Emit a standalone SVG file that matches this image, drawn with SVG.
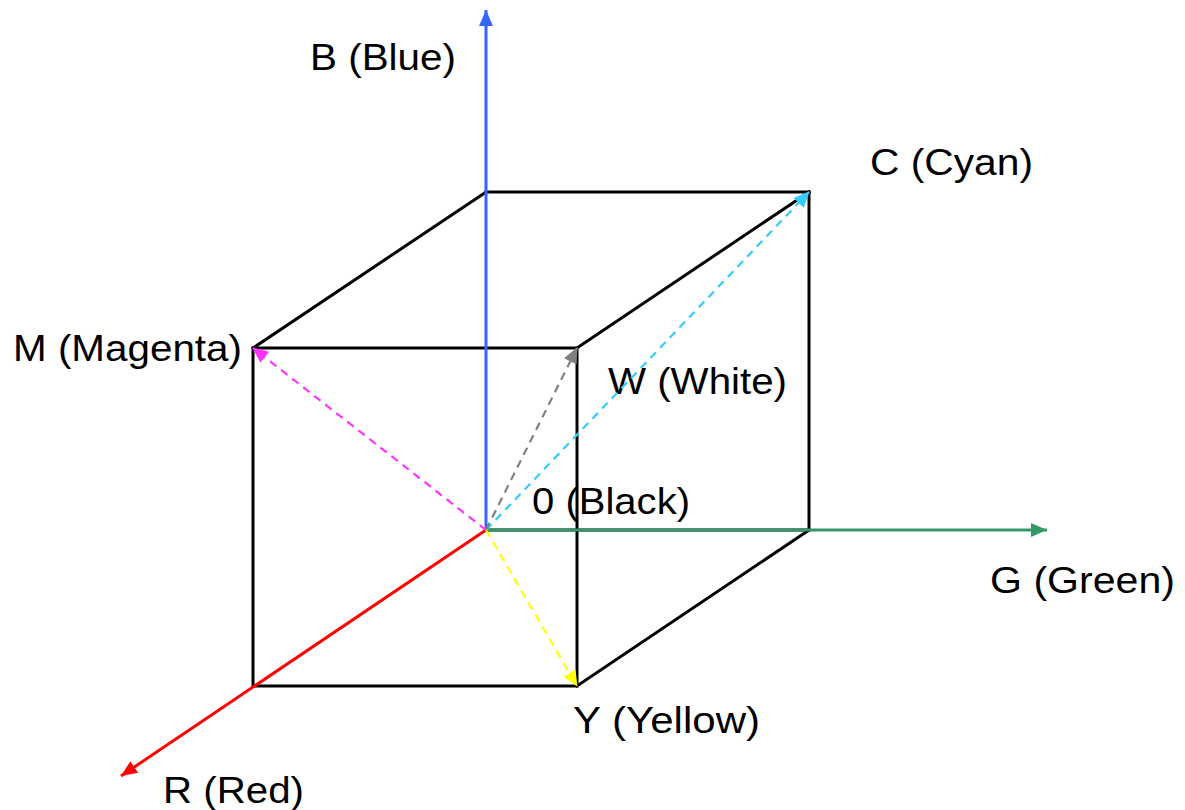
<svg xmlns="http://www.w3.org/2000/svg" width="1185" height="810" viewBox="0 0 1185 810">
<style>
  .lbl { font-family: "Liberation Sans", Arial, sans-serif; font-size: 37px; fill: #000; }
  .edge { stroke: #000; stroke-width: 3; fill: none; stroke-linecap: square; }
  .axis { stroke-width: 3; fill: none; }
  .dash { stroke-width: 2.2; fill: none; stroke-dasharray: 8 6; }
</style>
<defs>
  <marker id="mBlue" markerUnits="userSpaceOnUse" markerWidth="16" markerHeight="16" refX="16" refY="8" orient="auto"><path d="M0,1 L16,8 L0,15 z" fill="#3366FF"/></marker>
  <marker id="mGreen" markerUnits="userSpaceOnUse" markerWidth="16" markerHeight="16" refX="16" refY="8" orient="auto"><path d="M0,1 L16,8 L0,15 z" fill="#339966"/></marker>
  <marker id="mRed" markerUnits="userSpaceOnUse" markerWidth="16" markerHeight="16" refX="16" refY="8" orient="auto"><path d="M0,1 L16,8 L0,15 z" fill="#FF0000"/></marker>
  <marker id="mMag" markerUnits="userSpaceOnUse" markerWidth="16" markerHeight="16" refX="15" refY="8" orient="auto"><path d="M0,1 L16,8 L0,15 z" fill="#FF33FF"/></marker>
  <marker id="mCyan" markerUnits="userSpaceOnUse" markerWidth="16" markerHeight="16" refX="15" refY="8" orient="auto"><path d="M0,1 L16,8 L0,15 z" fill="#33CCFF"/></marker>
  <marker id="mGray" markerUnits="userSpaceOnUse" markerWidth="16" markerHeight="16" refX="15" refY="8" orient="auto"><path d="M0,1 L16,8 L0,15 z" fill="#808080"/></marker>
  <marker id="mYel" markerUnits="userSpaceOnUse" markerWidth="16" markerHeight="16" refX="15" refY="8" orient="auto"><path d="M0,1 L16,8 L0,15 z" fill="#FFFF00"/></marker>
</defs>
<rect width="1185" height="810" fill="#fff"/>

<g id="node-B"><text class="lbl" x="310" y="70" textLength="146" lengthAdjust="spacingAndGlyphs">B (Blue)</text></g>
<g id="node-C"><text class="lbl" x="870" y="175" textLength="163" lengthAdjust="spacingAndGlyphs">C (Cyan)</text></g>
<g id="node-M"><text class="lbl" x="13" y="361" textLength="229" lengthAdjust="spacingAndGlyphs">M (Magenta)</text></g>
<g id="node-W"><text class="lbl" x="608" y="394" textLength="179" lengthAdjust="spacingAndGlyphs">W (White)</text></g>
<g id="node-0"><text class="lbl" x="532" y="514" textLength="158" lengthAdjust="spacingAndGlyphs">0 (Black)</text></g>
<g id="node-G"><text class="lbl" x="990" y="593" textLength="185" lengthAdjust="spacingAndGlyphs">G (Green)</text></g>
<g id="node-Y"><text class="lbl" x="573" y="733" textLength="187" lengthAdjust="spacingAndGlyphs">Y (Yellow)</text></g>
<g id="node-R"><text class="lbl" x="163" y="803" textLength="141" lengthAdjust="spacingAndGlyphs">R (Red)</text></g>

<g id="cube">
  <rect class="edge" x="253" y="348" width="324" height="338"/>
  <line class="edge" x1="486" y1="192" x2="809" y2="192"/>
  <line class="edge" x1="809" y1="192" x2="809" y2="530"/>
  <line class="edge" x1="486" y1="530" x2="809" y2="530"/>
  <line class="edge" x1="253" y1="348" x2="486" y2="192"/>
  <line class="edge" x1="577" y1="348" x2="809" y2="192"/>
  <line class="edge" x1="577" y1="686" x2="809" y2="530"/>
</g>

<g id="connectors">
  <line class="axis" stroke="#3366FF" x1="486" y1="530" x2="486" y2="10" marker-end="url(#mBlue)"/>
  <line class="axis" stroke="#339966" x1="486" y1="530" x2="1047" y2="530" marker-end="url(#mGreen)"/>
  <line class="axis" stroke="#FF0000" x1="486" y1="530" x2="121" y2="776" marker-end="url(#mRed)"/>
  <line class="dash" stroke="#FF33FF" x1="486" y1="530" x2="253" y2="348" marker-end="url(#mMag)"/>
  <line class="dash" stroke="#33CCFF" x1="486" y1="530" x2="809" y2="192" marker-end="url(#mCyan)"/>
  <line class="dash" stroke="#808080" stroke-width="3.5" stroke-dasharray="12 7" x1="486" y1="530" x2="577" y2="348" marker-end="url(#mGray)"/>
  <line class="dash" stroke="#FFFF00" x1="486" y1="530" x2="577" y2="686" marker-end="url(#mYel)"/>
</g>
</svg>
